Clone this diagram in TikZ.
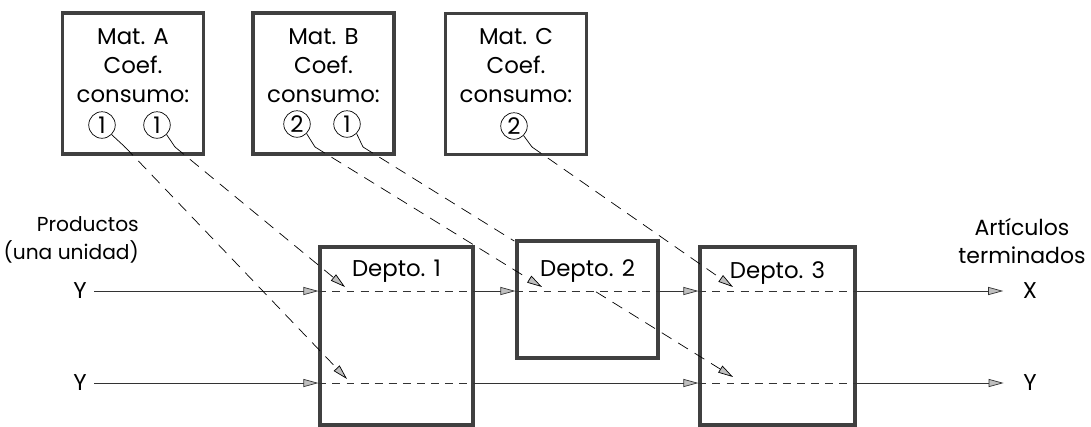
\documentclass[tikz,border=0pt]{standalone}
\usepackage{fontspec}
\setmainfont{Poppins}
\usetikzlibrary{arrows.meta,calc}

\begin{document}
\begin{tikzpicture}[
  x=0.2mm, y=-0.2mm,
  >={Triangle[length=3mm, width=1.6mm, fill=black!25]},
  every node/.style={font=\fontsize{13}{16.5}\selectfont},
  matbox/.style={draw=black!75, line width=1.8pt,
              minimum width=2.82cm, minimum height=2.82cm},
  deptbox/.style={draw=black!75, line width=1.8pt},
  coefcirc/.style={draw, circle, minimum size=5.3mm, inner sep=0pt},
  flowlbl/.style={inner sep=4pt},
  flow/.style={black!80, thin},
  inside/.style={black!80, thin, dash pattern=on 4.5pt off 3.5pt},
  supply/.style={thin, dash pattern=on 6.5pt off 4.5pt},
]
  \useasboundingbox (0,0) rectangle (1091,426);

  \node[matbox] (matA) at (133,83.5) {};
  \node[matbox] (matB) at (323.5,83.5) {};
  \node[matbox] (matC) at (516,84) {};
  \node[align=center] (txtA) at (133,66) {Mat. A\\Coef.\\consumo:};
  \node[align=center] (txtB) at (323.5,66) {Mat. B\\Coef.\\consumo:};
  \node[align=center] (txtC) at (516,66) {Mat. C\\Coef.\\consumo:};

  \node[coefcirc] (a1) at (102,125) {1};
  \node[coefcirc] (a2) at (157,125) {1};
  \node[coefcirc] (b2) at (297,124) {2};
  \node[coefcirc] (b1) at (347,124) {1};
  \node[coefcirc] (c2) at (514,126) {2};

  \node[deptbox, minimum width=3.06cm, minimum height=3.56cm]
    (dep1) at (396.5,336) {};
  \node[deptbox, minimum width=2.82cm, minimum height=2.34cm]
    (dep2) at (587.5,299.5) {};
  \node[deptbox, minimum width=3.1cm, minimum height=3.56cm]
    (dep3) at (777.5,336) {};
  \node (lbl1) at (396.5,271) {Depto. 1};
  \node (lbl2) at (587.5,271) {Depto. 2};
  \node (lbl3) at (777.5,273) {Depto. 3};

  \node[align=right, anchor=east, font=\fontsize{11.5}{15.5}\selectfont]
    (prod) at (145,240) {Productos\\(una unidad)};
  \node[align=center, font=\fontsize{12.5}{15.5}\selectfont]
    (art) at (1022,241) {Artículos\\terminados};

  \node[flowlbl] (yin1) at (80,291) {Y};
  \node[flowlbl] (yin2) at (80,383) {Y};
  \node[flowlbl] (xout) at (1030,291) {X};
  \node[flowlbl] (yout) at (1030,383) {Y};

  \draw[flow, ->] (yin1) -- (yin1 -| dep1.west);
  \draw[inside] (yin1 -| dep1.west) -- (yin1 -| dep1.east);
  \draw[flow, ->] (yin1 -| dep1.east) -- (yin1 -| dep2.west);
  \draw[inside] (yin1 -| dep2.west) -- (yin1 -| dep2.east);
  \draw[flow, ->] (yin1 -| dep2.east) -- (yin1 -| dep3.west);
  \draw[inside] (yin1 -| dep3.west) -- (yin1 -| dep3.east);
  \draw[flow, ->, shorten >=7pt] (yin1 -| dep3.east) -- (xout);

  \draw[flow, ->] (yin2) -- (yin2 -| dep1.west);
  \draw[inside] (yin2 -| dep1.west) -- (yin2 -| dep1.east);
  \draw[flow, ->] (yin2 -| dep1.east) -- (yin2 -| dep3.west);
  \draw[inside] (yin2 -| dep3.west) -- (yin2 -| dep3.east);
  \draw[flow, ->, shorten >=7pt] (yin2 -| dep3.east) -- (yout);

  \coordinate (a1t) at (125,147);
  \coordinate (a2t) at (175,147);
  \coordinate (b2t) at (315,147);
  \coordinate (b1t) at (363,147);
  \coordinate (c2t) at (532,147);
  \coordinate (d1up) at (345,287);
  \coordinate (d1lo) at (347,379);
  \coordinate (d2up) at (542,287);
  \coordinate (d3up) at (733,287);
  \coordinate (d3lo) at (733,377);

  \draw (a1.-45) -- (a1t);
  \draw (a2.-45) -- (a2t);
  \draw (b2.-45) -- (b2t);
  \draw (b1.-45) -- (b1t);
  \draw (c2.-45) -- (c2t);

  \draw[supply, ->] (a1t) -- (d1lo);
  \draw[supply, ->] (a2t) -- (d1up);
  \draw[supply, ->] (b2t) -- (d2up);
  \draw[supply] (b1t) -- ($(b1t)!0.409!(d3lo)$);
  \draw[supply, ->] ($(b1t)!0.63!(d3lo)$) -- (d3lo);
  \draw[supply, ->] (c2t) -- (d3up);
\end{tikzpicture}
\end{document}
